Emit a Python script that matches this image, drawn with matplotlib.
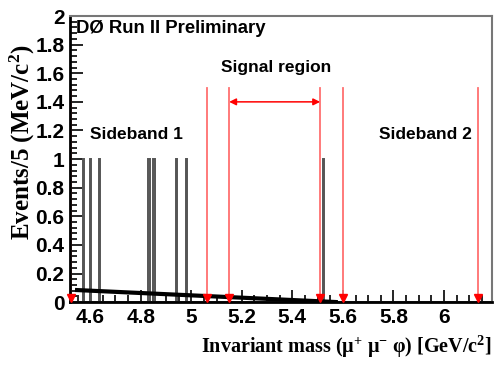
import matplotlib
matplotlib.use("Agg")
import matplotlib.pyplot as plt
from matplotlib import font_manager
from matplotlib.ticker import MultipleLocator
import numpy as np

# Candidate masses (GeV/c^2), one event each
event_mass = [4.572, 4.603, 4.635, 4.830, 4.853, 4.940, 4.984, 5.524]
bin_width = 0.005

# Background fit line (end points)
fit_x = [4.54, 5.58]
fit_y = [0.085, 0.0]

# Region boundaries (red lines)
sb1_edges = [4.525, 5.064]
sig_edges = [5.15, 5.51]
sb2_edges = [5.60, 6.135]
line_height = 1.5
arrow_y = 1.4

xticks = [4.6, 4.8, 5.0, 5.2, 5.4, 5.6, 5.8, 6.0]
xticklabels = ["4.6", "4.8", "5", "5.2", "5.4", "5.6", "5.8", "6"]
yticks = [0, 0.2, 0.4, 0.6, 0.8, 1.0, 1.2, 1.4, 1.6, 1.8, 2.0]
yticklabels = ["0", "0.2", "0.4", "0.6", "0.8", "1", "1.2", "1.4", "1.6", "1.8", "2"]

names = {f.name for f in font_manager.fontManager.ttflist}
sans = "Liberation Sans Narrow" if "Liberation Sans Narrow" in names else "Liberation Sans"

plt.rcParams["mathtext.fontset"] = "custom"
plt.rcParams["mathtext.rm"] = "Liberation Serif:bold"
plt.rcParams["mathtext.it"] = "Liberation Serif:italic"
plt.rcParams["mathtext.bf"] = "Liberation Serif:bold"

fig = plt.figure(figsize=(4.96, 3.73), dpi=100)
ax = fig.add_axes([0.141, 0.19, 0.851, 0.767])

# histogram of events
bins = np.arange(4.52, 6.2 + bin_width, bin_width)
ax.hist(event_mass, bins=bins, histtype="step", color="#555555", lw=1.4)

# fit line
ax.plot(fit_x, fit_y, color="black", lw=3, solid_capstyle="butt")

# red boundary lines with arrow heads at the bottom
for x in sb1_edges + sig_edges + sb2_edges:
    ax.plot([x, x], [0, line_height], color="#ff7070", lw=1.3)
    ax.plot([x], [0.03], marker="v", color="red", ms=6, clip_on=False, zorder=5)

ax.annotate("", xy=(sig_edges[0], arrow_y), xytext=(sig_edges[1], arrow_y),
            arrowprops=dict(arrowstyle="<|-|>", color="red", lw=1.1,
                            mutation_scale=10, shrinkA=0, shrinkB=0))

ax.set_xlim(4.52, 6.19)
ax.set_ylim(0, 2)
ax.set_xticks(xticks)
ax.set_xticklabels(xticklabels)
ax.set_yticks(yticks)
ax.set_yticklabels(yticklabels)
ax.xaxis.set_minor_locator(MultipleLocator(0.05))
ax.yaxis.set_minor_locator(MultipleLocator(0.04))
ax.tick_params(which="both", direction="in", top=False, right=False, width=1.2)
ax.tick_params(which="major", length=9, pad=4)
ax.tick_params(which="minor", length=5)
for lab in ax.get_xticklabels() + ax.get_yticklabels():
    lab.set_fontfamily(sans)
    lab.set_fontweight("bold")
    lab.set_fontsize(15)

for s in ["left", "bottom"]:
    ax.spines[s].set_linewidth(2)
    ax.spines[s].set_color("black")
for s in ["top", "right"]:
    ax.spines[s].set_linewidth(1.5)
    ax.spines[s].set_color("#777777")

ax.text(4.544, 1.975, "DØ Run II Preliminary", fontfamily=sans, fontweight="bold",
        fontsize=13.3, va="top", ha="left")
ax.text(5.337, 1.64, "Signal region", fontfamily=sans, fontweight="bold",
        fontsize=12.5, va="center", ha="center")
ax.text(4.60, 1.17, "Sideband 1", fontfamily=sans, fontweight="bold",
        fontsize=12.5, va="center", ha="left")
ax.text(5.742, 1.17, "Sideband 2", fontfamily=sans, fontweight="bold",
        fontsize=12.5, va="center", ha="left")

fig.text(0.046, 0.62, r"Events/5 (MeV/c$^{2}$)", rotation=90, fontfamily="Liberation Serif",
         fontweight="bold", fontsize=18, ha="center", va="center")
fig.text(0.992, 0.07, r"Invariant mass (μ$^{+}$ μ$^{-}$ φ) [GeV/c$^{2}$]",
         fontfamily="Liberation Serif", fontweight="bold", fontsize=14.5, ha="right", va="center")

fig.savefig("out.png", dpi=100)
